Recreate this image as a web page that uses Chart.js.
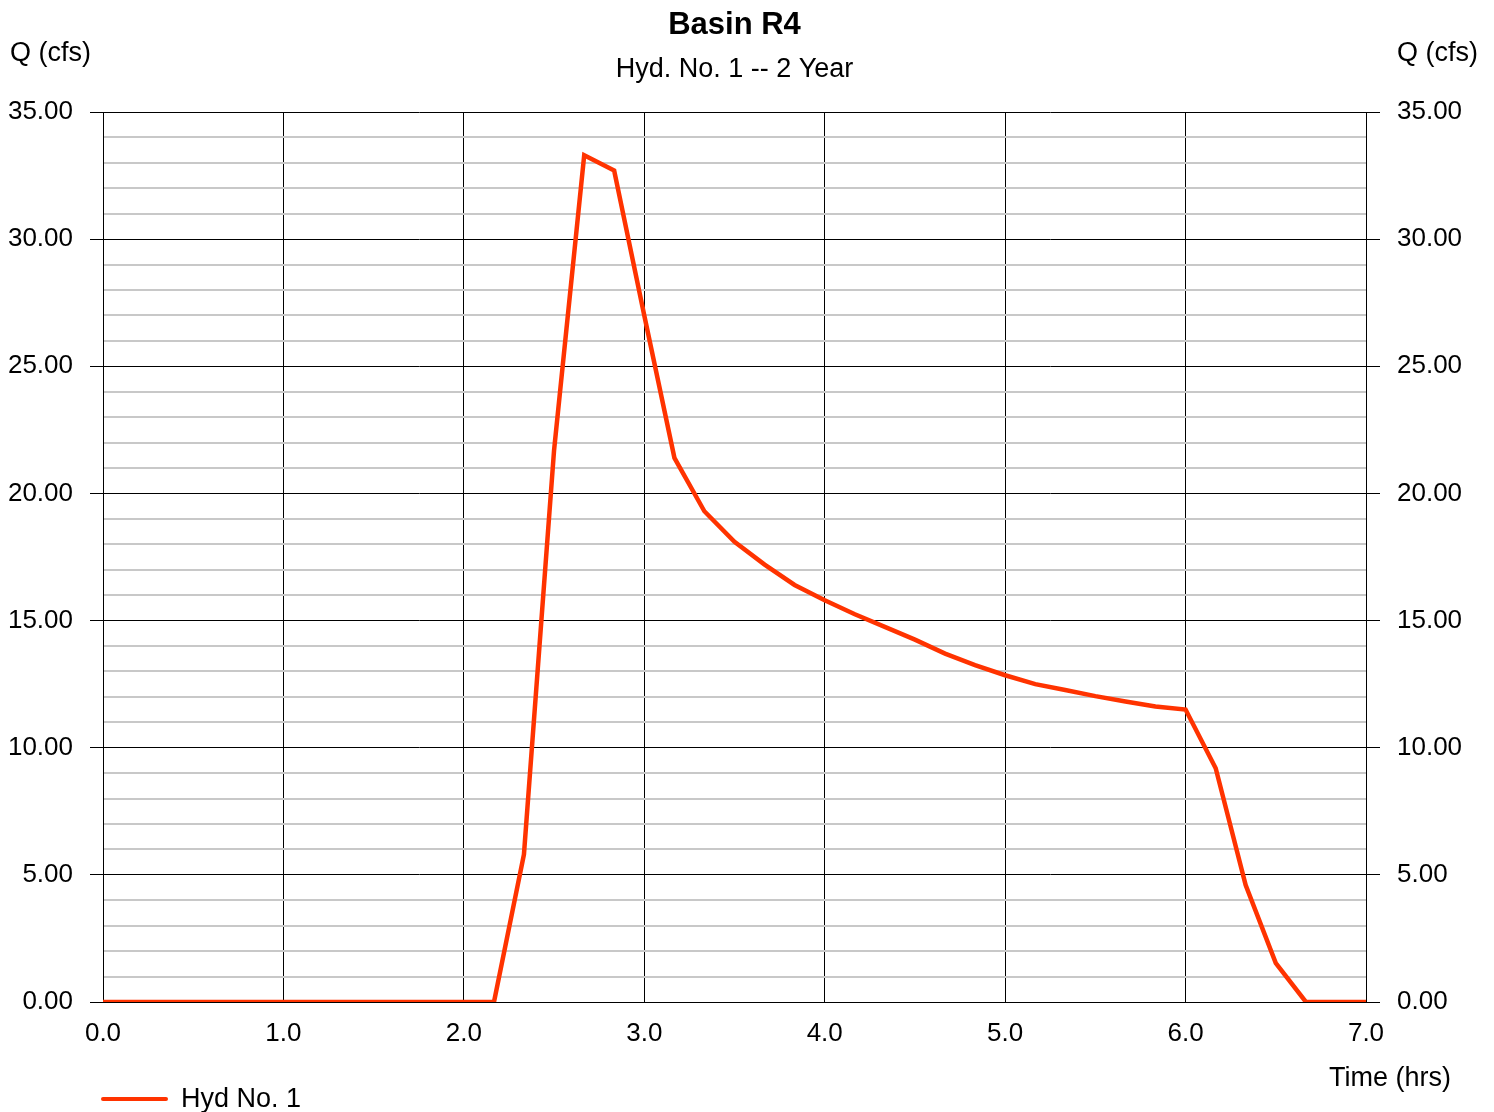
<!DOCTYPE html>
<html>
<head>
<meta charset="utf-8">
<script src="https://cdn.jsdelivr.net/npm/chart.js@4/dist/chart.umd.min.js"></script>
<style>
  html, body { margin: 0; padding: 0; background: #fff; }
  #canvas { display: block; }
</style>
</head>
<body>
<canvas id="canvas" width="1494" height="1112"></canvas>
<script>
// dane hydrogramu
const chartTitle = 'Basin R4';
const chartSubtitle = 'Hyd. No. 1 -- 2 Year';
const seriesName = 'Hyd No. 1';
const yAxisTitle = 'Q (cfs)';
const xAxisTitle = 'Time (hrs)';

const timeHrs = [0.0, 2.167, 2.333, 2.5, 2.667, 2.833, 3.0, 3.167, 3.333, 3.5, 3.667, 3.833,
    4.0, 4.167, 4.333, 4.5, 4.667, 4.833, 5.0, 5.167, 5.333, 5.5, 5.667, 5.833,
    6.0, 6.167, 6.333, 6.5, 6.667, 7.0];
const flowCfs = [0, 0, 5.8, 21.7, 33.3, 32.7, 27.0, 21.4, 19.3, 18.1, 17.2, 16.4,
    15.8, 15.25, 14.75, 14.25, 13.7, 13.25, 12.85, 12.5, 12.27, 12.03, 11.82, 11.62,
    11.5, 9.19, 4.6, 1.53, 0, 0];

const xMin = 0, xMax = 7, xStep = 1;
const yMin = 0, yMax = 35, yStep = 1, yMajor = 5;

const lineColor = '#ff3300';
const font = 'Liberation Sans, Arial, sans-serif';

let points = timeHrs.map(function(t, i) {
    return { x: t, y: flowCfs[i] };
});

function isMajor(ctx) {
    return ctx.tick && Math.abs(ctx.tick.value % yMajor) < 1e-6;
}

// napisy dookola wykresu
const textPlugin = {
    id: 'texts',
    afterDraw(chart) {
        let c = chart.ctx;
        let area = chart.chartArea;
        c.save();
        c.fillStyle = '#000';
        c.textBaseline = 'middle';

        c.textAlign = 'center';
        c.font = 'bold 31px ' + font;
        c.fillText(chartTitle, (area.left + area.right) / 2, 25);
        c.font = '27px ' + font;
        c.fillText(chartSubtitle, (area.left + area.right) / 2, 70);

        c.textAlign = 'left';
        c.fillText(yAxisTitle, 10, 54);
        c.fillText(yAxisTitle, 1397, 54);

        c.textAlign = 'right';
        c.fillText(xAxisTitle, 1451, 1079);

        // legenda
        c.strokeStyle = lineColor;
        c.lineWidth = 4;
        c.lineCap = 'round';
        c.beginPath();
        c.moveTo(103, 1099);
        c.lineTo(166, 1099);
        c.stroke();
        c.textAlign = 'left';
        c.fillText(seriesName, 181, 1100);
        c.restore();
    }
};

let ctx = document.getElementById('canvas').getContext('2d');
let config = {
    type: 'line',
    data: {
        datasets: [{
            label: seriesName,
            data: points,
            borderColor: lineColor,
            borderWidth: 4.5,
            pointRadius: 0,
            tension: 0,
            fill: false
        }]
    },
    options: {
        responsive: false,
        animation: false,
        devicePixelRatio: 1,
        layout: { padding: { top: 112, left: 0, right: 0, bottom: 0 } },
        plugins: {
            legend: { display: false },
            title: { display: false },
            tooltip: { enabled: false }
        },
        scales: {
            x: {
                type: 'linear',
                min: xMin,
                max: xMax,
                afterFit: function(scale) { scale.height = 110; },
                border: { color: '#000', width: 1 },
                grid: { color: '#000', lineWidth: 1, drawTicks: false },
                ticks: {
                    stepSize: xStep,
                    autoSkip: false,
                    maxRotation: 0,
                    padding: 16,
                    color: '#000',
                    font: { family: font, size: 26 },
                    callback: function(v) { return v.toFixed(1); }
                }
            },
            y: {
                type: 'linear',
                position: 'left',
                min: yMin,
                max: yMax,
                afterFit: function(scale) { scale.width = 103; },
                border: { color: '#000', width: 1 },
                grid: {
                    color: function(c) { return isMajor(c) ? '#000' : '#c8c8c8'; },
                    lineWidth: function(c) { return isMajor(c) ? 1 : 2; },
                    tickColor: function(c) { return isMajor(c) ? '#000' : 'rgba(0,0,0,0)'; },
                    tickLength: 13,
                    tickWidth: 1
                },
                ticks: {
                    stepSize: yStep,
                    autoSkip: false,
                    padding: 17,
                    color: '#000',
                    font: { family: font, size: 26 },
                    callback: function(v) { return v % yMajor === 0 ? v.toFixed(2) : ''; }
                }
            },
            y2: {
                type: 'linear',
                position: 'right',
                min: yMin,
                max: yMax,
                afterFit: function(scale) { scale.width = 128; },
                border: { color: '#000', width: 1 },
                grid: {
                    drawOnChartArea: false,
                    tickColor: function(c) { return isMajor(c) ? '#000' : 'rgba(0,0,0,0)'; },
                    tickLength: 14,
                    tickWidth: 1
                },
                ticks: {
                    stepSize: yStep,
                    autoSkip: false,
                    padding: 17,
                    color: '#000',
                    font: { family: font, size: 26 },
                    callback: function(v) { return v % yMajor === 0 ? v.toFixed(2) : ''; }
                }
            }
        }
    },
    plugins: [textPlugin]
};

let chart = new Chart(ctx, config);
</script>
</body>
</html>
